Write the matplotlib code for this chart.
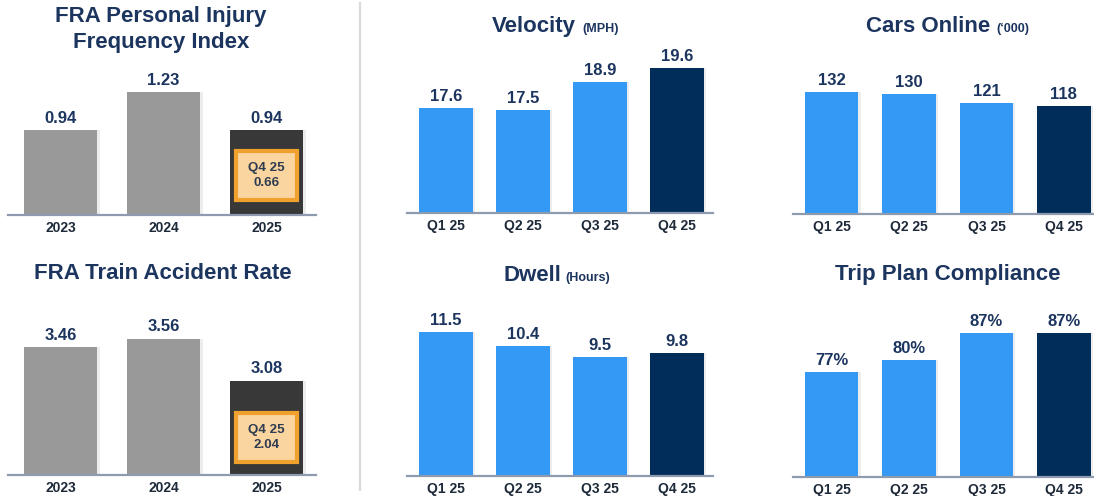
import matplotlib
matplotlib.use("Agg")
import matplotlib.pyplot as plt
from matplotlib.patches import Rectangle
from matplotlib.lines import Line2D

plt.rcParams['font.family'] = ['Liberation Sans', 'DejaVu Sans']

# ---------------- data ----------------
years = ["2023", "2024", "2025"]
injury_vals = [0.94, 1.23, 0.94]
injury_labels = ["0.94", "1.23", "0.94"]
injury_q4 = "Q4 25\n0.66"

accident_vals = [3.46, 3.56, 3.08]
accident_labels = ["3.46", "3.56", "3.08"]
accident_q4 = "Q4 25\n2.04"

quarters = ["Q1 25", "Q2 25", "Q3 25", "Q4 25"]
velocity_vals = [17.6, 17.5, 18.9, 19.6]
velocity_labels = ["17.6", "17.5", "18.9", "19.6"]
cars_vals = [132, 130, 121, 118]
cars_labels = ["132", "130", "121", "118"]
dwell_vals = [11.5, 10.4, 9.5, 9.8]
dwell_labels = ["11.5", "10.4", "9.5", "9.8"]
trip_vals = [77, 80, 87, 87]
trip_labels = ["77%", "80%", "87%", "87%"]

# ---------------- style ----------------
W, H = 1094, 496
GREY = "#999999"
DARKGREY = "#383838"
LBLUE = "#3399F5"
NAVY = "#002D5A"
TITLE_C = "#1C355E"
LABEL_C = "#1C355E"
TICK_C = "#1E2A3A"
AXIS_C = "#8E9BAE"
ORANGE_E = "#F0A02C"
ORANGE_F = "#FAD5A0"

fig = plt.figure(figsize=(W / 100, H / 100), dpi=100)
fig.patch.set_facecolor("white")


def make_ax(x0, x1, ybase, ytop, xlim, vmin, pxper):
    ax = fig.add_axes([x0 / W, 1 - ybase / H, (x1 - x0) / W, (ybase - ytop) / H])
    ax.set_xlim(*xlim)
    ax.set_ylim(vmin, vmin + (ybase - ytop) / pxper)
    for s in ["top", "right", "left"]:
        ax.spines[s].set_visible(False)
    ax.spines["bottom"].set_color(AXIS_C)
    ax.spines["bottom"].set_linewidth(1.6)
    ax.set_yticks([])
    ax.tick_params(axis="x", length=0, pad=4)
    ax.patch.set_alpha(0)
    return ax


def draw_bars(ax, cats, vals, labels, colors, width, vmin):
    xs = list(range(len(cats)))
    # soft shadow
    ax.bar([x + 0.03 for x in xs], [v - vmin for v in vals], width=width, bottom=vmin,
           color="#000000", alpha=0.07, zorder=1)
    ax.bar(xs, [v - vmin for v in vals], width=width, bottom=vmin, color=colors, zorder=2)
    for x, v, lab in zip(xs, vals, labels):
        ax.annotate(lab, (x, v), xytext=(0, 3), textcoords="offset points",
                    ha="center", va="bottom", fontsize=12, fontweight="bold",
                    color=LABEL_C)
    ax.set_xticks(xs)
    ax.set_xticklabels(cats, fontsize=10, fontweight="bold", color=TICK_C)


def q4_box(ax, idx, text, vmin, pxper, bot_px, top_px, width):
    y0 = vmin + bot_px / pxper
    y1 = vmin + top_px / pxper
    ax.add_patch(Rectangle((idx - width / 2, y0), width, y1 - y0, facecolor=ORANGE_F,
                           edgecolor=ORANGE_E, linewidth=3, zorder=3))
    ax.text(idx, (y0 + y1) / 2, text, ha="center", va="center", fontsize=9.6,
            fontweight="bold", color="#2E3B50", linespacing=1.4, zorder=4)


# FRA Personal Injury Frequency Index
ax1 = make_ax(8, 316, 215, 60, (-0.51, 2.48), 0.29, 131.0)
draw_bars(ax1, years, injury_vals, injury_labels, [GREY, GREY, DARKGREY], 0.71, 0.29)
q4_box(ax1, 2, injury_q4, 0.29, 131.0, 15, 64, 0.59)

# FRA Train Accident Rate
ax2 = make_ax(8, 316, 475, 300, (-0.51, 2.48), 2.0, 87.5)
draw_bars(ax2, years, accident_vals, accident_labels, [GREY, GREY, DARKGREY], 0.71, 2.0)
q4_box(ax2, 2, accident_q4, 2.0, 87.5, 13, 62, 0.59)

qcolors = [LBLUE, LBLUE, LBLUE, NAVY]
# Velocity
ax3 = make_ax(407, 713, 213, 45, (-0.506, 3.47), 12.35, 20.0)
draw_bars(ax3, quarters, velocity_vals, velocity_labels, qcolors, 0.70, 12.35)
# Cars online
ax4 = make_ax(793, 1094, 214, 45, (-0.5, 3.39), 10, 1.0)
draw_bars(ax4, quarters, cars_vals, cars_labels, qcolors, 0.69, 10)
# Dwell
ax5 = make_ax(407, 713, 476, 300, (-0.506, 3.47), 0.0, 12.5)
draw_bars(ax5, quarters, dwell_vals, dwell_labels, qcolors, 0.70, 0.0)
# Trip plan compliance
ax6 = make_ax(793, 1094, 477, 300, (-0.5, 3.39), 50, 3.9)
draw_bars(ax6, quarters, trip_vals, trip_labels, qcolors, 0.69, 50)


# ---------------- titles ----------------
def ftext(x, y, s, size, ha="center"):
    fig.text(x / W, 1 - y / H, s, ha=ha, va="baseline", fontsize=size,
             fontweight="bold", color=TITLE_C)


ftext(161, 22, "FRA Personal Injury", 16)
ftext(161, 48, "Frequency Index", 16)
ftext(163, 279, "FRA Train Accident Rate", 16)

ftext(576, 32, "Velocity", 16, ha="right")
ftext(582, 32, "(MPH)", 9, ha="left")
ftext(990, 32, "Cars Online", 16, ha="right")
ftext(996, 32, "(\u2018000)", 9, ha="left")
ftext(561, 281, "Dwell", 16, ha="right")
ftext(565, 281, "(Hours)", 9, ha="left")
ftext(948, 280, "Trip Plan Compliance", 16)

# divider
fig.add_artist(Line2D([360 / W, 360 / W], [1 - 3 / H, 1 - 490 / H], color="#D9D9D9",
                      linewidth=1.6, transform=fig.transFigure))

fig.savefig("out.png", dpi=100, facecolor="white")
